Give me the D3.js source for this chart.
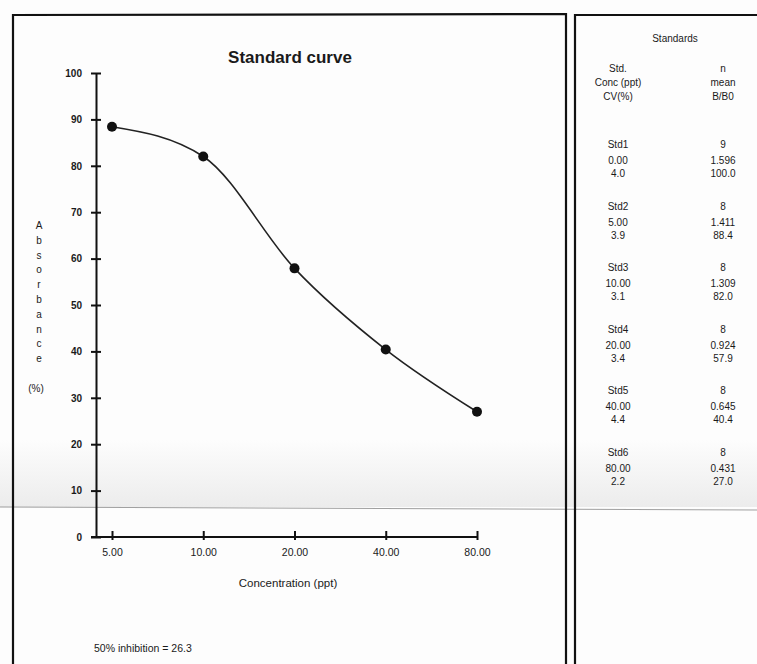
<!DOCTYPE html>
<html>
<head>
<meta charset="utf-8">
<script src="https://cdn.jsdelivr.net/npm/d3@7"></script>
<style>
  html, body { margin: 0; padding: 0; background: #fdfdfd; }
  svg { display: block; }
  text { font-family: "Liberation Sans", Arial, sans-serif; fill: #1a1a1a; }
</style>
</head>
<body>
<svg id="chart" width="757" height="664"></svg>
<script>
// ---- data ----
const concentrations = [5, 10, 20, 40, 80];
const bOverB0 = [88.4, 82.0, 57.9, 40.4, 27.0];
const xTickLabels = ["5.00", "10.00", "20.00", "40.00", "80.00"];
const yTickValues = [0, 10, 20, 30, 40, 50, 60, 70, 80, 90, 100];
const yLabelLetters = ["A", "b", "s", "o", "r", "b", "a", "n", "c", "e"];

const stdNames = ["Std1", "Std2", "Std3", "Std4", "Std5", "Std6"];
const stdConc = ["0.00", "5.00", "10.00", "20.00", "40.00", "80.00"];
const stdCV = ["4.0", "3.9", "3.1", "3.4", "4.4", "2.2"];
const stdN = ["9", "8", "8", "8", "8", "8"];
const stdMean = ["1.596", "1.411", "1.309", "0.924", "0.645", "0.431"];
const stdBB0 = ["100.0", "88.4", "82.0", "57.9", "40.4", "27.0"];

const svg = d3.select("#chart");

// scan artifacts: faint gray band and line
const band = svg.append("defs").append("linearGradient")
  .attr("id", "band").attr("x1", 0).attr("x2", 0).attr("y1", 0).attr("y2", 1);
band.append("stop").attr("offset", "0%").attr("stop-color", "#fdfdfd");
band.append("stop").attr("offset", "100%").attr("stop-color", "#ececec");
svg.append("rect").attr("x", 0).attr("y", 440).attr("width", 757).attr("height", 67)
  .attr("fill", "url(#band)");
svg.append("line").attr("x1", 0).attr("x2", 757).attr("y1", 507).attr("y2", 510)
  .attr("stroke", "#8a8a8a").attr("stroke-width", 1.2).attr("opacity", 0.8);

// panel borders
const border = svg.append("g").attr("fill", "none").attr("stroke", "#111");
border.append("path").attr("d", "M13,700 L13,15 L566,14 L566,700").attr("stroke-width", 2.2);
border.append("path").attr("d", "M575,700 L575,15 L760,15").attr("stroke-width", 2.2);

// ---- scales ----
const x = d3.scaleLog().base(2).domain([5, 80]).range([112, 477]);
const y = d3.scaleLinear().domain([0, 100]).range([537, 73]);

// title
svg.append("text").attr("x", 290).attr("y", 63).attr("text-anchor", "middle")
  .style("font-size", "17px").style("font-weight", "bold").text("Standard curve");

// y axis
const yAxis = svg.append("g").attr("transform", "translate(96,0)")
  .call(d3.axisLeft(y).tickValues(yTickValues).tickSizeOuter(0).tickSizeInner(5).tickPadding(10));
yAxis.select(".domain").attr("stroke", "#111").attr("stroke-width", 2);
yAxis.selectAll(".tick line").attr("x1", -5).attr("x2", 5).attr("stroke", "#111").attr("stroke-width", 2);
yAxis.selectAll(".tick text").style("font-size", "10px").style("font-weight", "bold")
  .attr("fill", "#333").attr("x", -14);

// x axis
const xAxis = svg.append("g").attr("transform", "translate(0,537)")
  .call(d3.axisBottom(x).tickValues(concentrations)
    .tickFormat((d, i) => xTickLabels[i]).tickSizeOuter(0).tickSizeInner(4).tickPadding(8));
xAxis.select(".domain").remove();
xAxis.append("line").attr("x1", 91).attr("x2", 478).attr("y1", 0).attr("y2", 0)
  .attr("stroke", "#111").attr("stroke-width", 2);
xAxis.selectAll(".tick line").attr("y1", -6).attr("y2", 3).attr("stroke", "#111").attr("stroke-width", 2);
xAxis.selectAll(".tick text").style("font-size", "10.5px").attr("fill", "#333");

// y label (stacked letters)
svg.append("g").selectAll("text").data(yLabelLetters).join("text")
  .attr("x", 39).attr("y", (d, i) => 229 + i * 14.8).attr("text-anchor", "middle")
  .style("font-size", "10px").attr("fill", "#333").text(d => d);
svg.append("text").attr("x", 36).attr("y", 392).attr("text-anchor", "middle")
  .style("font-size", "10px").attr("fill", "#333").text("(%)");

// x label
svg.append("text").attr("x", 288).attr("y", 587).attr("text-anchor", "middle")
  .style("font-size", "11.5px").attr("fill", "#333").text("Concentration (ppt)");

// curve
const pts = concentrations.map((c, i) => [c, bOverB0[i]]);
svg.append("path").datum(pts)
  .attr("fill", "none").attr("stroke", "#222").attr("stroke-width", 1.6)
  .attr("d", d3.line().x(d => x(d[0])).y(d => y(d[1])).curve(d3.curveMonotoneX));
svg.append("g").selectAll("circle").data(pts).join("circle")
  .attr("cx", d => x(d[0])).attr("cy", d => y(d[1])).attr("r", 5).attr("fill", "#111");

// footer
svg.append("text").attr("x", 94).attr("y", 652)
  .style("font-size", "10.5px").attr("fill", "#333").text("50% inhibition = 26.3");

// ---- table ----
const tbl = svg.append("g").style("font-size", "10px").attr("text-anchor", "middle");
const c1 = 618, c2 = 723;
tbl.append("text").attr("x", 675).attr("y", 42).text("Standards");
[["Std.", "n"], ["Conc (ppt)", "mean"], ["CV(%)", "B/B0"]].forEach((r, i) => {
  tbl.append("text").attr("x", c1).attr("y", 72 + i * 14).text(r[0]);
  tbl.append("text").attr("x", c2).attr("y", 72 + i * 14).text(r[1]);
});
stdNames.forEach((name, i) => {
  const y0 = 148 + i * 61.6;
  const g = tbl.append("g");
  g.append("text").attr("x", c1).attr("y", y0).text(name);
  g.append("text").attr("x", c1).attr("y", y0 + 16).text(stdConc[i]);
  g.append("text").attr("x", c1).attr("y", y0 + 29).text(stdCV[i]);
  g.append("text").attr("x", c2).attr("y", y0).text(stdN[i]);
  g.append("text").attr("x", c2).attr("y", y0 + 16).text(stdMean[i]);
  g.append("text").attr("x", c2).attr("y", y0 + 29).text(stdBB0[i]);
});
</script>
</body>
</html>
